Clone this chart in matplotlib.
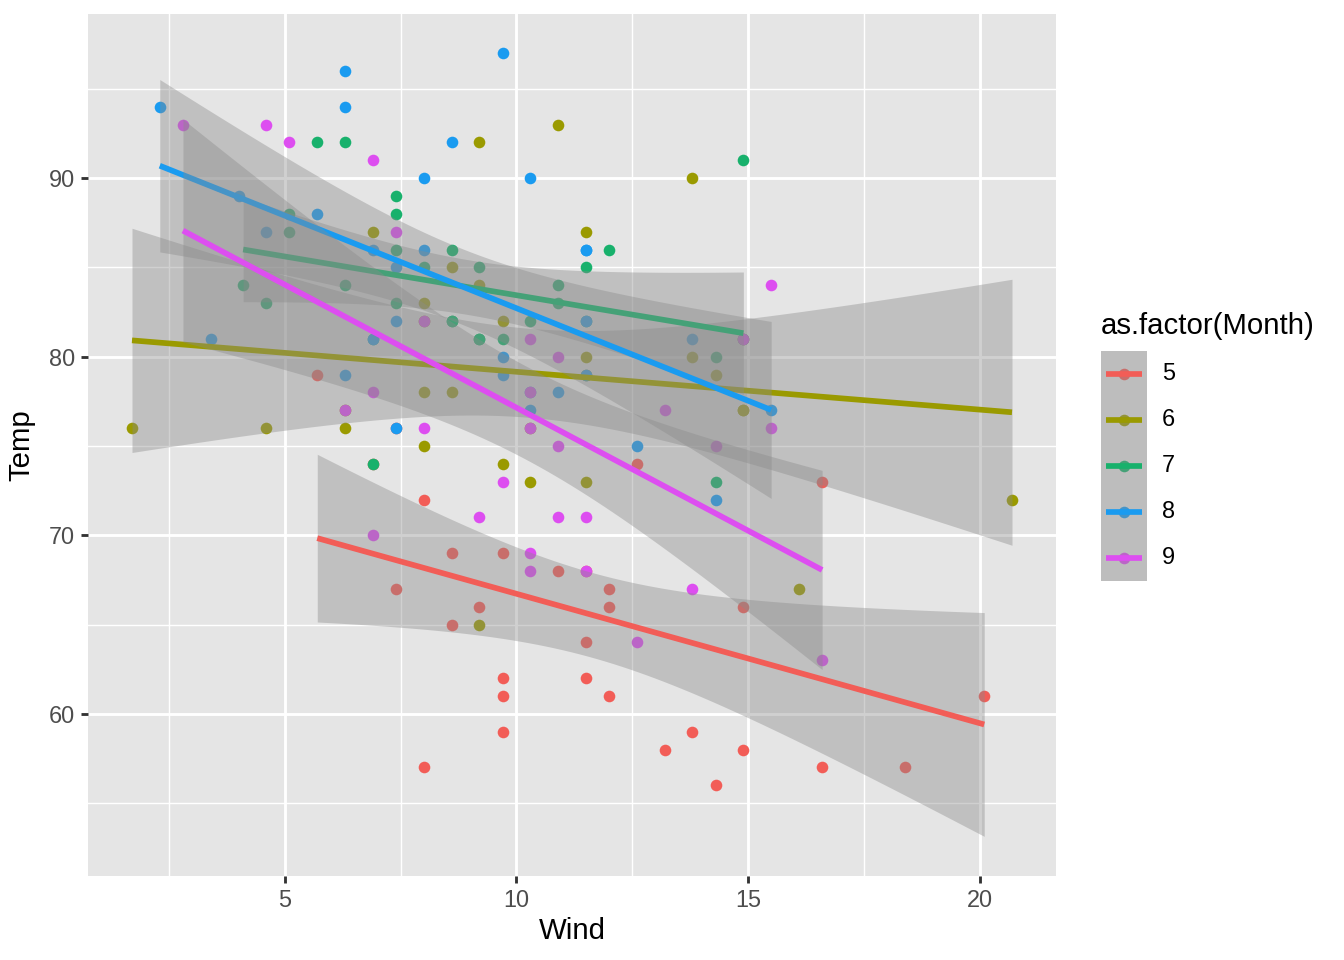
import matplotlib
matplotlib.use("Agg")
import matplotlib.pyplot as plt
import numpy as np

plt.rcParams['font.family'] = ['Liberation Sans', 'DejaVu Sans']

# airquality: Wind / Temp by month
months = ['5', '6', '7', '8', '9']
colors = ['#F25D57', '#9A9A00', '#18B16C', '#1A9BF0', '#DD4EF0']

wind_5 = [7.4, 8.0, 12.6, 11.5, 14.3, 14.9, 8.6, 13.8, 20.1, 8.6, 6.9, 9.7, 9.2, 10.9, 13.2, 11.5,
          12.0, 18.4, 11.5, 9.7, 9.7, 16.6, 9.7, 12.0, 16.6, 14.9, 8.0, 12.0, 14.9, 5.7, 7.4]
temp_5 = [67, 72, 74, 62, 56, 66, 65, 59, 61, 69, 74, 69, 66, 68, 58, 64,
          66, 57, 68, 62, 59, 73, 61, 61, 57, 58, 57, 67, 81, 79, 76]
wind_6 = [8.6, 9.7, 16.1, 9.2, 8.6, 14.3, 9.7, 6.9, 13.8, 11.5, 10.9, 9.2, 8.0, 13.8, 11.5,
          14.9, 20.7, 9.2, 11.5, 10.3, 6.3, 1.7, 4.6, 6.3, 8.0, 8.0, 10.3, 11.5, 14.9, 8.0]
temp_6 = [78, 74, 67, 84, 85, 79, 82, 87, 90, 87, 93, 92, 82, 80, 79,
          77, 72, 65, 73, 76, 77, 76, 76, 76, 75, 78, 73, 80, 77, 83]
wind_7 = [4.1, 9.2, 9.2, 10.9, 4.6, 10.9, 5.1, 6.3, 5.7, 7.4, 8.6, 14.3, 14.9, 14.9, 14.3, 6.9,
          10.3, 6.3, 5.1, 11.5, 6.9, 9.7, 11.5, 8.6, 8.0, 8.6, 12.0, 7.4, 7.4, 7.4, 9.2]
temp_7 = [84, 85, 81, 84, 83, 83, 88, 92, 92, 89, 82, 73, 81, 91, 80, 81,
          82, 84, 87, 85, 74, 81, 82, 86, 85, 82, 86, 88, 86, 83, 81]
wind_8 = [6.9, 13.8, 7.4, 6.9, 7.4, 4.6, 4.0, 10.3, 8.0, 8.6, 11.5, 11.5, 11.5, 9.7, 11.5, 10.3,
          6.3, 7.4, 10.9, 10.3, 15.5, 14.3, 12.6, 9.7, 3.4, 8.0, 5.7, 9.7, 2.3, 6.3, 6.3]
temp_8 = [81, 81, 82, 86, 85, 87, 89, 90, 90, 92, 86, 86, 82, 80, 79, 77,
          79, 76, 78, 78, 77, 72, 75, 79, 81, 86, 88, 97, 94, 96, 94]
wind_9 = [6.9, 5.1, 2.8, 4.6, 7.4, 15.5, 10.9, 10.3, 10.9, 9.7, 14.9, 15.5, 6.3, 10.9, 11.5,
          6.9, 13.8, 10.3, 10.3, 8.0, 12.6, 9.2, 10.3, 10.3, 16.6, 6.9, 13.2, 14.3, 8.0, 11.5]
temp_9 = [91, 92, 93, 93, 87, 84, 80, 78, 75, 73, 81, 76, 77, 71, 71,
          78, 67, 76, 68, 82, 64, 71, 81, 69, 63, 70, 77, 75, 76, 68]

winds = [wind_5, wind_6, wind_7, wind_8, wind_9]
temps = [temp_5, temp_6, temp_7, temp_8, temp_9]
# t quantile 0.975 for df = n - 2
t_crit = {29: 2.045230, 28: 2.048407}


def lm_band(x, y):
    x = np.asarray(x, float)
    y = np.asarray(y, float)
    n = len(x)
    b1, b0 = np.polyfit(x, y, 1)
    resid = y - (b0 + b1 * x)
    s = np.sqrt(np.sum(resid ** 2) / (n - 2))
    sxx = np.sum((x - x.mean()) ** 2)
    xs = np.linspace(x.min(), x.max(), 80)
    yh = b0 + b1 * xs
    se = s * np.sqrt(1.0 / n + (xs - x.mean()) ** 2 / sxx)
    t = t_crit[n - 2]
    return xs, yh, yh - t * se, yh + t * se


fig = plt.figure(figsize=(7, 5), dpi=192)
ax = fig.add_axes([88 / 1344, (960 - 875.5) / 960, (1056 - 88) / 1344, (875.5 - 14) / 960])
ax.set_facecolor('#E5E5E5')

for i in range(5):
    ax.scatter(winds[i], temps[i], s=19, color=colors[i], linewidths=0, zorder=3)

lo_all, hi_all = [], []
for i in range(5):
    xs, yh, lo, hi = lm_band(winds[i], temps[i])
    lo_all.append(lo.min())
    hi_all.append(hi.max())
    ax.fill_between(xs, lo, hi, color='#8A8A8A', alpha=0.4, linewidth=0, zorder=4 + 2 * i)
    ax.plot(xs, yh, color=colors[i], lw=2.13, zorder=5 + 2 * i, solid_capstyle='butt')

all_w = sum(winds, [])
all_t = sum(temps, [])
x0, x1 = min(all_w), max(all_w)
y0, y1 = min(min(all_t), min(lo_all)), max(max(all_t), max(hi_all))
ax.set_xlim(x0 - 0.05 * (x1 - x0), x1 + 0.05 * (x1 - x0))
ax.set_ylim(y0 - 0.05 * (y1 - y0), y1 + 0.05 * (y1 - y0))

ax.set_xticks([5, 10, 15, 20])
ax.set_yticks([60, 70, 80, 90])
ax.set_xticks([2.5, 7.5, 12.5, 17.5], minor=True)
ax.set_yticks([55, 65, 75, 85, 95], minor=True)
ax.grid(True, which='major', color='white', lw=1.07, zorder=1)
ax.grid(True, which='minor', color='white', lw=0.53, zorder=1)
ax.set_axisbelow(True)
for sp in ax.spines.values():
    sp.set_visible(False)
ax.tick_params(which='major', length=2.75, width=1.07, color='#333333',
               labelsize=8.8, labelcolor='#4D4D4D', pad=2.2)
ax.tick_params(which='minor', length=0)
ax.set_xlabel('Wind', fontsize=11, color='black', labelpad=2)
ax.set_ylabel('Temp', fontsize=11, color='black', labelpad=5)

# legend drawn in pixel coordinates
lax = fig.add_axes([0, 0, 1, 1])
lax.set_xlim(0, 1344)
lax.set_ylim(960, 0)
lax.axis('off')
lax.add_patch(plt.Rectangle((1101, 351), 46, 230, facecolor='#E0E0E0', edgecolor='none'))
for i in range(5):
    yc = 374 + 46 * i
    lax.scatter([1124], [yc], s=19, color=colors[i], linewidths=0, zorder=2)
    lax.plot([1106, 1142], [yc, yc], color=colors[i], lw=2.13, zorder=4, solid_capstyle='butt')
    lax.text(1162, yc, months[i], fontsize=8.8, va='center', ha='left', color='black')
lax.add_patch(plt.Rectangle((1101, 351), 46, 230, facecolor='#8A8A8A', alpha=0.4,
                            edgecolor='none', zorder=3))
lax.text(1101, 326, 'as.factor(Month)', fontsize=11, va='center', ha='left', color='black')

fig.savefig('out.png', dpi=192)
